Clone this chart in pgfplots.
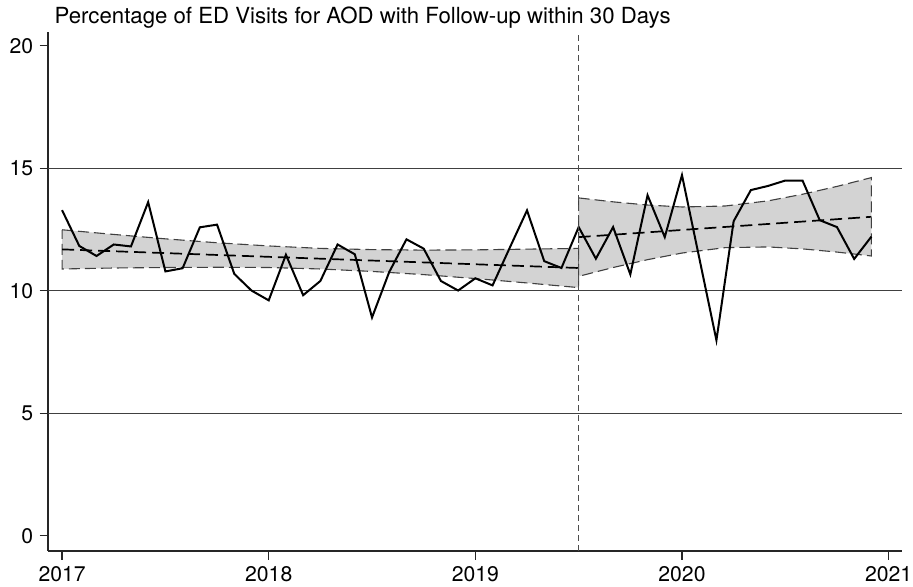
\documentclass[border=0pt]{standalone}
\usepackage{fontspec}
\setmainfont{TeX Gyre Heros}
\usepackage{pgfplots}
\pgfplotsset{compat=1.18}
\definecolor{bandgray}{RGB}{211,211,211}
\begin{document}
\begin{tikzpicture}
\useasboundingbox (-24.15pt,-18pt) rectangle (432.35pt,275.5pt);
\begin{axis}[
  at={(0pt,0pt)}, anchor=south west,
  width=426.7pt, height=259.35pt, scale only axis,
  xmin=-0.8, xmax=48.76, ymin=-0.62, ymax=20.55,
  axis lines=left,
  axis line style={-, line width=0.8pt, black!85},
  xtick={0,12,24,36,48}, xticklabels={2017,2018,2019,2020,2021},
  ytick={0,5,10,15,20},
  tick align=outside, major tick length=4.3pt,
  tick style={line width=0.6pt, black!85},
  extra y ticks={5,10,15}, extra y tick labels={},
  extra y tick style={major tick length=0pt, ymajorgrids=true},
  major grid style={line width=0.6pt, black!75},
  ticklabel style={font=\fontsize{10.6}{12}\selectfont},
  yticklabel style={xshift=0.3pt},
  /pgf/number format/assume math mode=true,
]
% confidence band, pre-period
\addplot[fill=bandgray, draw=black!75, line width=0.55pt, dash pattern=on 5.5pt off 2.5pt] coordinates {
 (0,12.49) (3,12.30) (6,12.12) (9,11.96) (12,11.83) (15,11.73) (18,11.68) (21,11.66) (24,11.67) (27,11.70) (30,11.73)
 (30,10.13) (27,10.32) (24,10.50) (21,10.66) (18,10.79) (15,10.89) (12,10.95) (9,10.96) (6,10.95) (3,10.93) (0,10.89)
} -- cycle;
% confidence band, post-period
\addplot[fill=bandgray, draw=black!75, line width=0.55pt, dash pattern=on 5.5pt off 2.5pt] coordinates {
 (30,13.79) (32,13.63) (34,13.50) (36,13.42) (38.5,13.46) (41,13.67) (43,13.94) (45,14.26) (47,14.62)
 (47,11.42) (45,11.58) (43,11.71) (41,11.79) (38.5,11.76) (36,11.54) (34,11.27) (32,10.95) (30,10.59)
} -- cycle;
% fitted lines
\addplot[black, line width=0.85pt, dash pattern=on 6pt off 3pt] coordinates {(0,11.69) (30,10.93)};
\addplot[black, line width=0.85pt, dash pattern=on 6pt off 3pt] coordinates {(30,12.19) (47,13.02)};
% observed monthly percentage
\addplot[black, line width=1pt, line join=miter] coordinates {
 (0,13.29) (1,11.83) (2,11.42) (3,11.89) (4,11.81) (5,13.62) (6,10.79) (7,10.92)
 (8,12.59) (9,12.70) (10,10.69) (11,10.01) (12,9.61) (13,11.47) (14,9.82) (15,10.40)
 (16,11.89) (17,11.49) (18,8.91) (19,10.77) (20,12.10) (21,11.72) (22,10.40) (23,10.01)
 (24,10.51) (25,10.22) (26,11.76) (27,13.28) (28,11.21) (29,10.93) (30,12.60) (31,11.31)
 (32,12.60) (33,10.67) (34,13.90) (35,12.19) (36,14.72) (37,11.35) (38,7.98) (39,12.84)
 (40,14.11) (41,14.28) (42,14.50) (43,14.50) (44,12.88) (45,12.60) (46,11.30) (47,12.21)
};
% intervention line
\addplot[black!70, line width=0.8pt, dash pattern=on 3pt off 2pt] coordinates {(30,-0.62) (30,20.55)};
\end{axis}
\node[anchor=base west, inner sep=0pt, font=\fontsize{11.1}{13}\selectfont] at (3pt,263.5pt)
  {Percentage of ED Visits for AOD with Follow-up within 30 Days};
\end{tikzpicture}
\end{document}
